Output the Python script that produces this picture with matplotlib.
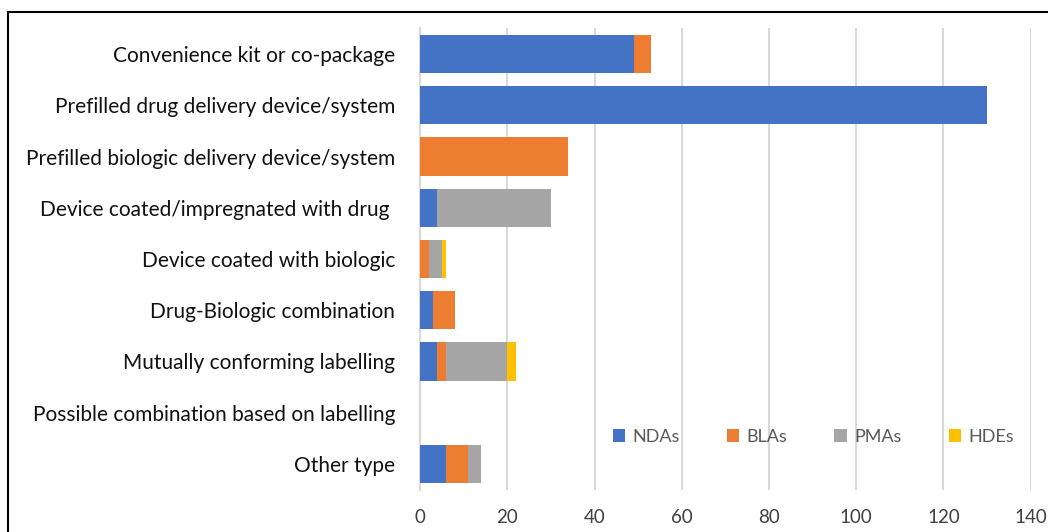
import numpy as np
import matplotlib.pyplot as plt
from matplotlib.patches import Rectangle

categories = [
    "Convenience kit or co-package",
    "Prefilled drug delivery device/system",
    "Prefilled biologic delivery device/system",
    "Device coated/impregnated with drug ",
    "Device coated with biologic",
    "Drug-Biologic combination",
    "Mutually conforming labelling",
    "Possible combination based on labelling",
    "Other type",
]
ndas = [49, 130, 0, 4, 0, 3, 4, 0, 6]
blas = [4, 0, 34, 0, 2, 5, 2, 0, 5]
pmas = [0, 0, 0, 26, 3, 0, 14, 0, 3]
hdes = [0, 0, 0, 0, 1, 0, 2, 0, 0]

series = [("NDAs", ndas, "#4472C4"), ("BLAs", blas, "#ED7D31"),
          ("PMAs", pmas, "#A5A5A5"), ("HDEs", hdes, "#FFC000")]

plt.rcParams["font.family"] = ["Lato", "DejaVu Sans"]

fig = plt.figure(figsize=(10.48, 5.32), dpi=100)
ax = fig.add_axes([0.4008, 0.0797, 0.5827, 0.8669])

y = np.arange(len(categories))
left = np.zeros(len(categories))
for name, vals, color in series:
    vals = np.array(vals)
    ax.barh(y, vals, left=left, height=0.75, color=color, label=name, zorder=3)
    left += vals

ax.set_ylim(len(categories) - 0.5, -0.5)
ax.set_xlim(0, 140)
ax.set_xticks(range(0, 141, 20))
ax.set_yticks(y)
ax.set_yticklabels(categories, fontsize=15, color="#111111")
ax.tick_params(axis="x", labelsize=13.5, colors="#404040", length=0, pad=14)
ax.tick_params(axis="y", length=0, pad=18)
ax.grid(axis="x", color="#D9D9D9", linewidth=1.5, zorder=0)
for s in ["top", "right", "bottom"]:
    ax.spines[s].set_visible(False)
ax.spines["left"].set_color("#D9D9D9")
ax.spines["left"].set_linewidth(1.5)

leg = ax.legend(ncol=4, loc="center", bbox_to_anchor=(0.644, 0.114), frameon=False,
                fontsize=13, handlelength=0.7, handleheight=0.7, columnspacing=2.6,
                handletextpad=0.4)
for t in leg.get_texts():
    t.set_color("#595959")

# outer border of the original figure
fig.patches.append(Rectangle((8 / 1048, -0.1), 1.2, 1 - 12 / 532 + 0.1,
                             transform=fig.transFigure, fill=False,
                             edgecolor="black", linewidth=1.5))

fig.savefig("out.png", dpi=100)
